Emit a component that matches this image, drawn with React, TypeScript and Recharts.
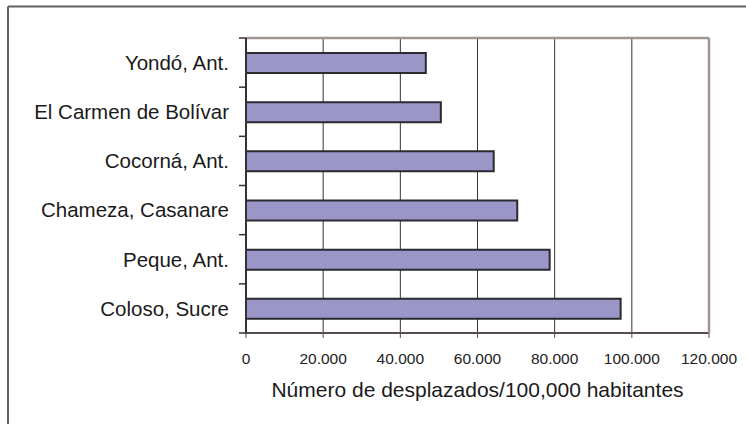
import React from 'react';
import { BarChart, Bar, XAxis, YAxis, CartesianGrid, Label } from 'recharts';

const categories = [
  'Yondó, Ant.',
  'El Carmen de Bolívar',
  'Cocorná, Ant.',
  'Chameza, Casanare',
  'Peque, Ant.',
  'Coloso, Sucre',
];
const values = [46600, 50500, 64200, 70300, 78700, 97100];
const xTicks = [0, 20000, 40000, 60000, 80000, 100000, 120000];
const axisTitle = 'Número de desplazados/100,000 habitantes';

const data = categories.map((name, i) => ({ name, value: values[i] }));

// Boundary ticks between categories, on the index scale of the category positions
const N = categories.length;
const boundaryTicks = Array.from({ length: N + 1 }, (_, k) => (k * (N - 1)) / N);

const fmt = (v: number) => String(v).replace(/\B(?=(\d{3})+(?!\d))/g, '.');

const FONT = '"Liberation Sans", Arial, sans-serif';
const BORDER = '#a0958f';
const FRAME = '#5f5f5f';

const EmptyTick = () => <g />;

export default function App() {
  return (
    <div
      style={{
        position: 'absolute',
        left: 0,
        top: 0,
        width: 746,
        height: 424,
        overflow: 'hidden',
        background: '#fff',
        fontFamily: FONT,
      }}
    >
      <svg
        width={746}
        height={424}
        style={{ position: 'absolute', left: 0, top: 0 }}
      >
        <path d="M8 6.5 H746 M8 6.5 V424" stroke={FRAME} strokeWidth={2} fill="none" />
      </svg>
      <div style={{ position: 'absolute', left: 0, top: 0 }}>
        <BarChart
          width={746}
          height={424}
          data={data}
          layout="vertical"
          margin={{ top: 37, right: 36, bottom: 21, left: 0 }}
        >
          <CartesianGrid horizontal={false} stroke="#333" />
          <XAxis
            type="number"
            domain={[0, 120000]}
            ticks={xTicks}
            tickFormatter={fmt}
            interval={0}
            height={70}
            tickSize={5}
            tickMargin={15}
            axisLine={{ stroke: '#574d4a', strokeWidth: 2 }}
            tickLine={{ stroke: '#574d4a', strokeWidth: 1 }}
            tick={{ fontSize: 15.5, fill: '#222', fontFamily: FONT }}
          >
            <Label
              value={axisTitle}
              position="insideBottom"
              offset={6}
              style={{ fontSize: 21, fill: '#1a1a1a', fontFamily: FONT }}
            />
          </XAxis>
          <XAxis
            xAxisId="top"
            orientation="top"
            type="number"
            domain={[0, 120000]}
            height={1}
            tick={false}
            tickLine={false}
            axisLine={{ stroke: BORDER, strokeWidth: 2.5 }}
          />
          <YAxis
            yAxisId={0}
            type="number"
            ticks={boundaryTicks}
            interval={0}
            width={1}
            tick={EmptyTick}
            tickSize={7}
            tickLine={{ stroke: '#333', strokeWidth: 1.5 }}
            axisLine={{ stroke: '#333', strokeWidth: 2 }}
          />
          <YAxis
            yAxisId="cat"
            type="category"
            dataKey="name"
            width={245}
            interval={0}
            tickSize={7}
            tickMargin={9}
            tickLine={false}
            axisLine={false}
            tick={{ fontSize: 20.5, fill: '#1a1a1a', fontFamily: FONT }}
          />
          <YAxis
            yAxisId="right"
            orientation="right"
            type="number"
            width={1}
            tick={false}
            tickLine={false}
            axisLine={{ stroke: BORDER, strokeWidth: 2.5 }}
          />
          <Bar
            yAxisId="cat"
            dataKey="value"
            fill="#9b96c8"
            stroke="#2a2a30"
            strokeWidth={2}
            barSize={20}
            isAnimationActive={false}
          />
        </BarChart>
      </div>
    </div>
  );
}
